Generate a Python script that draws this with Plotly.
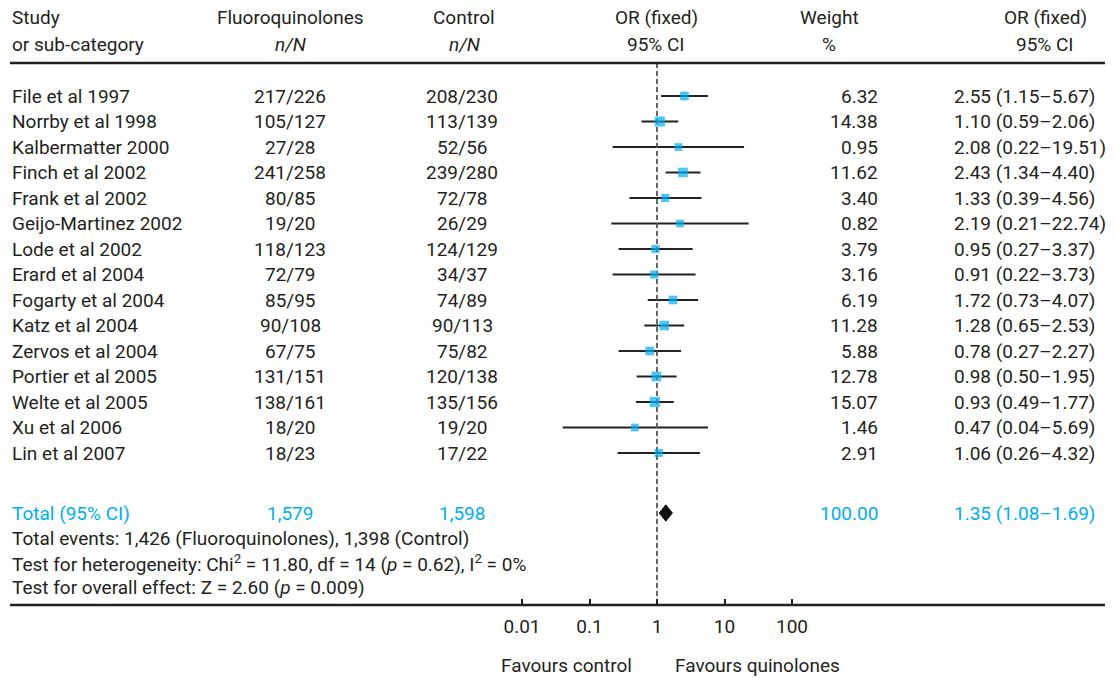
import plotly.graph_objects as go

# Per-study data
studies = ["File et al 1997", "Norrby et al 1998", "Kalbermatter 2000", "Finch et al 2002",
           "Frank et al 2002", "Geijo-Martinez 2002", "Lode et al 2002", "Erard et al 2004",
           "Fogarty et al 2004", "Katz et al 2004", "Zervos et al 2004", "Portier et al 2005",
           "Welte et al 2005", "Xu et al 2006", "Lin et al 2007"]
fq_events = [217, 105, 27, 241, 80, 19, 118, 72, 85, 90, 67, 131, 138, 18, 18]
fq_total = [226, 127, 28, 258, 85, 20, 123, 79, 95, 108, 75, 151, 161, 20, 23]
ctrl_events = [208, 113, 52, 239, 72, 26, 124, 34, 74, 90, 75, 120, 135, 19, 17]
ctrl_total = [230, 139, 56, 280, 78, 29, 129, 37, 89, 113, 82, 138, 156, 20, 22]
weights = [6.32, 14.38, 0.95, 11.62, 3.40, 0.82, 3.79, 3.16, 6.19, 11.28, 5.88, 12.78, 15.07, 1.46, 2.91]
odds_ratio = [2.55, 1.10, 2.08, 2.43, 1.33, 2.19, 0.95, 0.91, 1.72, 1.28, 0.78, 0.98, 0.93, 0.47, 1.06]
ci_low = [1.15, 0.59, 0.22, 1.34, 0.39, 0.21, 0.27, 0.22, 0.73, 0.65, 0.27, 0.50, 0.49, 0.04, 0.26]
ci_high = [5.67, 2.06, 19.51, 4.40, 4.56, 22.74, 3.37, 3.73, 4.07, 2.53, 2.27, 1.95, 1.77, 5.69, 4.32]

# Pooled estimate
pooled_or = 1.35
pooled_low = 1.08
pooled_high = 1.69
pooled_weight = 100.00

# Axis ticks
tick_vals = [0.01, 0.1, 1, 10, 100]
tick_text = ["0.01", "0.1", "1", "10", "100"]

W, H = 1116, 678
FONT = "Roboto, Liberation Sans, sans-serif"
FS = 19
INK = "#231f20"
CYAN = "#00aeef"

# layout geometry (pixels)
ROW0, ROWH = 96, 25.5
X_ONE, DECADE = 657, 67.5
AX_L, AX_R = 10, 1105
AXIS_Y = 605


def row_of(py):
    return (py - ROW0) / ROWH


def px(x):
    return x / W


rows = list(range(len(studies)))
r_total = row_of(513)
r_header_line = row_of(63)
r_axis = row_of(AXIS_Y)

fig = go.Figure()

# confidence interval whiskers
lx, ly = [], []
for r, lo, hi in zip(rows, ci_low, ci_high):
    lx += [lo, hi, None]
    ly += [r, r, None]
fig.add_trace(go.Scatter(x=lx, y=ly, mode="lines",
                         line=dict(color="#222222", width=2.2),
                         hoverinfo="skip", showlegend=False))

# line of no effect
fig.add_trace(go.Scatter(x=[1, 1], y=[r_header_line, r_axis], mode="lines",
                         line=dict(color="#555555", width=1.8, dash="5px,3px"),
                         hoverinfo="skip", showlegend=False))

# study point estimates, sized by weight
sizes = [7.5 + 0.18 * w for w in weights]
fig.add_trace(go.Scatter(x=odds_ratio, y=rows, mode="markers",
                         marker=dict(symbol="square", size=sizes, color=CYAN,
                                     line=dict(width=0)),
                         showlegend=False))

# pooled diamond
dh = 0.32
fig.add_trace(go.Scatter(x=[pooled_low, pooled_or, pooled_high, pooled_or, pooled_low],
                         y=[r_total, r_total - dh, r_total, r_total + dh, r_total],
                         mode="lines", fill="toself", fillcolor="#111111",
                         line=dict(color="#111111", width=1),
                         hoverinfo="skip", showlegend=False))

ann = []


def text(x, r, s, anchor="left", color=INK, size=FS):
    ann.append(dict(x=px(x), xref="paper", y=r, yref="y", text=s, showarrow=False,
                    xanchor=anchor, yanchor="middle",
                    font=dict(family=FONT, size=size, color=color)))


# column headers
h1, h2 = row_of(17), row_of(44)
text(10, h1, "Study")
text(10, h2, "or sub-category")
text(290, h1, "Fluoroquinolones", "center")
text(290, h2, "<i>n/N</i>", "center")
text(464, h1, "Control", "center")
text(464, h2, "<i>n/N</i>", "center")
text(656, h1, "OR (fixed)", "center")
text(656, h2, "95% CI", "center")
text(829, h1, "Weight", "center")
text(829, h2, "%", "center")
text(1045, h1, "OR (fixed)", "center")
text(1045, h2, "95% CI", "center")

# study rows
for r, s, fe, ft, ce, ct, w, o, lo, hi in zip(rows, studies, fq_events, fq_total,
                                              ctrl_events, ctrl_total, weights,
                                              odds_ratio, ci_low, ci_high):
    text(10, r, s)
    text(290, r, f"{fe}/{ft}", "center")
    text(462, r, f"{ce}/{ct}", "center")
    text(880, r, f"{w:.2f}", "right")
    text(952, r, f"{o:.2f} ({lo:.2f}\u2013{hi:.2f})")

# totals
text(10, r_total, "Total (95% CI)", color=CYAN)
text(290, r_total, f"{sum(fq_total):,}", "center", CYAN)
text(462, r_total, f"{sum(ctrl_total):,}", "center", CYAN)
text(880, r_total, f"{pooled_weight:.2f}", "right", CYAN)
text(952, r_total, f"{pooled_or:.2f} ({pooled_low:.2f}\u2013{pooled_high:.2f})", color=CYAN)

text(10, row_of(538), f"Total events: {sum(fq_events):,} (Fluoroquinolones), {sum(ctrl_events):,} (Control)")
text(10, row_of(563), "Test for heterogeneity: Chi<sup>2</sup> = 11.80, df = 14 (<i>p</i> = 0.62), I<sup>2</sup> = 0%")
text(10, row_of(587), "Test for overall effect: Z = 2.60 (<i>p</i> = 0.009)")

text(634, row_of(665), "Favours control", "right")
text(673, row_of(665), "Favours quinolones", "left")

rule = dict(color=INK, width=2.5)
fig.update_layout(
    width=W, height=H, margin=dict(l=0, r=0, t=0, b=0),
    paper_bgcolor="white", plot_bgcolor="white",
    annotations=ann,
    shapes=[dict(type="line", xref="paper", yref="y", x0=px(AX_L), x1=px(AX_R),
                 y0=r_header_line, y1=r_header_line, line=rule),
            dict(type="line", xref="paper", yref="y", x0=px(AX_L), x1=px(AX_R),
                 y0=r_axis, y1=r_axis, line=rule)],
    xaxis=dict(type="log", domain=[px(AX_L), px(AX_R)],
               range=[(AX_L - X_ONE) / DECADE, (AX_R - X_ONE) / DECADE],
               anchor="free", position=1 - AXIS_Y / H,
               showline=False,
               tickmode="array", tickvals=tick_vals, ticktext=tick_text,
               ticks="inside", ticklen=6, tickwidth=2, tickcolor=INK,
               tickfont=dict(family=FONT, size=FS, color=INK),
               ticklabelstandoff=8,
               showgrid=False, zeroline=False, fixedrange=True),
    yaxis=dict(range=[row_of(H), row_of(0)], domain=[0, 1], visible=False,
               showgrid=False, zeroline=False, fixedrange=True),
)

fig.write_html("out.html")
